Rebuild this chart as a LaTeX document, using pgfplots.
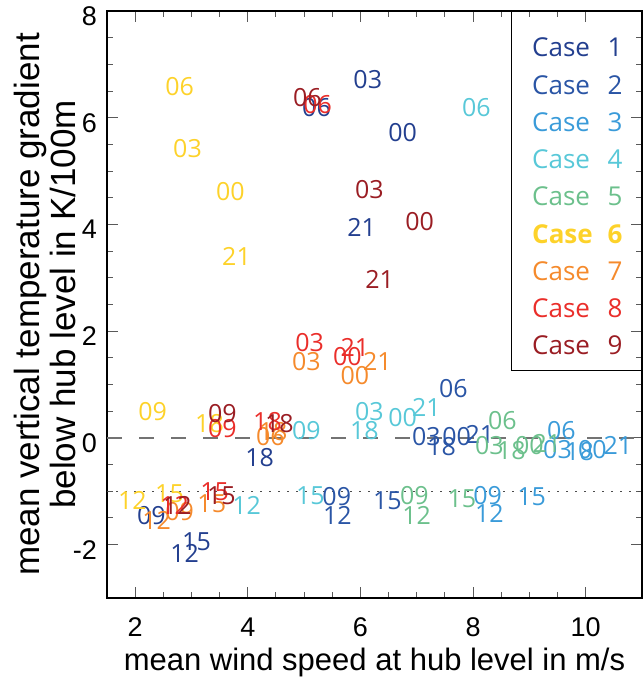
\documentclass[border=0pt]{standalone}
\usepackage{pgfplots}
\pgfplotsset{compat=1.18}
\usepackage{fontspec}
\setmainfont{Liberation Sans}
\newfontfamily\labfont{Open Sans}
\definecolor{c1}{RGB}{35,63,143}
\definecolor{c2}{RGB}{42,85,165}
\definecolor{c3}{RGB}{58,155,217}
\definecolor{c4}{RGB}{88,200,216}
\definecolor{c5}{RGB}{108,192,140}
\definecolor{c6}{RGB}{253,210,42}
\definecolor{c7}{RGB}{245,138,44}
\definecolor{c8}{RGB}{234,46,42}
\definecolor{c9}{RGB}{154,29,35}
\pgfplotsset{
  lab/.style={only marks, mark=none, nodes near coords, point meta=explicit symbolic,
    nodes near coords style={anchor=center, inner sep=0pt, text=#1, font=\labfont\fontsize{25}{25}\selectfont}}
}
\begin{document}
\begin{tikzpicture}
\begin{axis}[name=ax, scale only axis, width=535pt, height=587pt,
  xmin=1.5, xmax=11, ymin=-3, ymax=8,
  xtick={2,4,6,8,10}, ytick={-2,0,2,4,6,8},
  minor x tick num=3, minor y tick num=3,
  major tick length=11pt, minor tick length=6pt,
  every tick/.style={black!65, line width=1pt},
  axis line style={line width=1.2pt},
  /pgf/number format/assume math mode=true,
  ticklabel style={font=\fontsize{27}{27}\selectfont},
  xticklabel style={anchor=base, inner sep=0pt, yshift=-38pt},
  yticklabel style={anchor=east, inner sep=0pt, xshift=-10pt, yshift=-5pt},
  every axis x label/.style={at={([yshift=-64pt]axis description cs:0.5,0)}, anchor=center, font=\fontsize{31}{31}\selectfont},
  every axis y label/.style={at={([xshift=-62.5pt]axis description cs:0,0.5)}, rotate=90, anchor=center, align=center, font=\fontsize{35}{36}\selectfont},
  xlabel={mean wind speed at hub level in m/s},
  ylabel={mean vertical temperature gradient\\below hub level in K/100m},
  clip=false]
\addplot[forget plot, color=black!55, line width=2pt, dash pattern=on 15pt off 17pt] coordinates {(1.5,0) (11,0)};
\addplot[forget plot, color=black!70, line width=1.5pt, dash pattern=on 2pt off 7pt] coordinates {(1.5,-1) (11,-1)};
% Case 1
\addplot[lab=c1] table[meta=l] {
x y l
6.75 5.72 00
6.13 6.71 03
5.22 6.19 06
2.29 -1.46 09
2.88 -2.17 12
3.09 -1.94 15
4.21 -0.36 18
6.02 3.94 21
};
% Case 2
\addplot[lab=c2] table[meta=l] {
x y l
7.71 0.02 00
7.17 0.02 03
7.65 0.92 06
5.58 -1.10 09
5.59 -1.46 12
6.48 -1.18 15
7.44 -0.17 18
8.12 0.07 21
};
% Case 3
\addplot[lab=c3] table[meta=l] {
x y l
10.12 -0.21 00
9.50 -0.21 03
9.57 0.13 06
8.26 -1.08 09
8.29 -1.42 12
9.04 -1.10 15
9.89 -0.26 18
10.57 -0.15 21
};
% Case 4
\addplot[lab=c4] table[meta=l] {
x y l
6.75 0.39 00
6.16 0.49 03
8.06 6.19 06
5.04 0.13 09
3.98 -1.27 12
5.11 -1.08 15
6.07 0.13 18
7.17 0.58 21
};
% Case 5
\addplot[lab=c5] table[meta=l] {
x y l
9.00 -0.15 00
8.29 -0.15 03
8.52 0.32 06
6.96 -1.08 09
7.00 -1.46 12
7.80 -1.14 15
8.68 -0.24 18
9.31 -0.11 21
};
% Case 6
\addplot[lab=c6] table[meta=l] {
x y l
3.69 4.62 00
2.93 5.42 03
2.79 6.58 06
2.31 0.49 09
1.95 -1.18 12
2.61 -1.05 15
3.32 0.26 18
3.80 3.40 21
};
% Case 7
\addplot[lab=c7] table[meta=l] {
x y l
5.90 1.16 00
5.04 1.44 03
4.40 0.02 06
2.79 -1.38 09
2.38 -1.55 12
3.36 -1.23 15
4.45 0.11 18
6.30 1.44 21
};
% Case 8
\addplot[lab=c8] table[meta=l] {
x y l
5.77 1.53 00
5.10 1.79 03
5.24 6.24 06
3.55 0.17 09
2.70 -1.27 12
3.41 -1.01 15
4.35 0.30 18
5.90 1.70 21
};
% Case 9
\addplot[lab=c9] table[meta=l] {
x y l
7.05 4.06 00
6.16 4.65 03
5.06 6.37 06
3.55 0.45 09
2.75 -1.27 12
3.53 -1.08 15
4.56 0.26 18
6.34 2.97 21
};
\end{axis}
\draw[line width=1pt] ([xshift=404pt]ax.north west) rectangle ([yshift=-360pt]ax.north east);
\tikzset{legc/.style={anchor=base west, inner sep=0pt, font=\labfont\fontsize{26}{26}\selectfont},
         legn/.style={anchor=base, inner sep=0pt, font=\labfont\fontsize{26}{26}\selectfont}}
\node[legc, text=c1] at ([shift={(425pt,-46pt)}]ax.north west) {Case};
\node[legn, text=c1] at ([shift={(508pt,-46pt)}]ax.north west) {1};
\node[legc, text=c2] at ([shift={(425pt,-83.25pt)}]ax.north west) {Case};
\node[legn, text=c2] at ([shift={(508pt,-83.25pt)}]ax.north west) {2};
\node[legc, text=c3] at ([shift={(425pt,-120.5pt)}]ax.north west) {Case};
\node[legn, text=c3] at ([shift={(508pt,-120.5pt)}]ax.north west) {3};
\node[legc, text=c4] at ([shift={(425pt,-157.75pt)}]ax.north west) {Case};
\node[legn, text=c4] at ([shift={(508pt,-157.75pt)}]ax.north west) {4};
\node[legc, text=c5] at ([shift={(425pt,-195pt)}]ax.north west) {Case};
\node[legn, text=c5] at ([shift={(508pt,-195pt)}]ax.north west) {5};
\node[legc, text=c6] at ([shift={(425pt,-232.25pt)}]ax.north west) {\bfseries Case};
\node[legn, text=c6] at ([shift={(508pt,-232.25pt)}]ax.north west) {\bfseries 6};
\node[legc, text=c7] at ([shift={(425pt,-269.5pt)}]ax.north west) {Case};
\node[legn, text=c7] at ([shift={(508pt,-269.5pt)}]ax.north west) {7};
\node[legc, text=c8] at ([shift={(425pt,-306.75pt)}]ax.north west) {Case};
\node[legn, text=c8] at ([shift={(508pt,-306.75pt)}]ax.north west) {8};
\node[legc, text=c9] at ([shift={(425pt,-344pt)}]ax.north west) {Case};
\node[legn, text=c9] at ([shift={(508pt,-344pt)}]ax.north west) {9};
\pgfresetboundingbox
\path ([xshift=-107pt,yshift=-82pt]ax.south west) rectangle ([yshift=11pt]ax.north east);
\end{tikzpicture}
\end{document}
